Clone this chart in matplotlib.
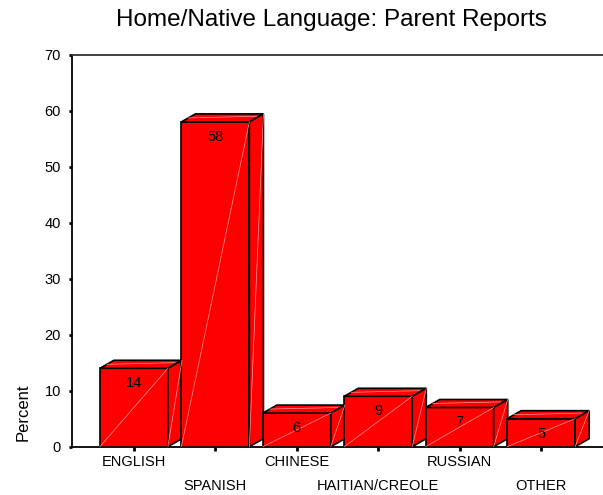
import matplotlib
matplotlib.use("Agg")
import matplotlib.pyplot as plt

plt.rcParams['font.family'] = ['Liberation Sans', 'DejaVu Sans']

# Données
languages = ['ENGLISH', 'SPANISH', 'CHINESE', 'HAITIAN/CREOLE', 'RUSSIAN', 'OTHER']
percent = [14, 58, 6, 9, 7, 5]
y_ticks = [0, 10, 20, 30, 40, 50, 60, 70]

# Style des barres 3D
bar_w = 0.835
depth_x = 0.173
depth_y = 1.43
face = '#ff0000'
shine = '#ff9c9c'

fig = plt.figure(figsize=(6.03, 4.95), dpi=100)
ax = fig.add_axes([72 / 603, 1 - 446.7 / 495, 531 / 603, 392 / 495])

for i, v in enumerate(percent):
    x0 = i - bar_w / 2
    x1 = i + bar_w / 2
    # face avant
    ax.fill([x0, x1, x1, x0], [0, 0, v, v], color=face, ec='black', lw=1.2, zorder=3)
    # dessus
    ax.fill([x0, x1, x1 + depth_x, x0 + depth_x], [v, v, v + depth_y, v + depth_y],
            color=face, ec='black', lw=1.2, zorder=3)
    # côté
    ax.fill([x1, x1 + depth_x, x1 + depth_x, x1], [0, depth_y, v + depth_y, v],
            color=face, ec='black', lw=1.2, zorder=3)
    # reflets
    ax.plot([x0, x1], [0, v], color=shine, lw=0.5, zorder=4)
    ax.plot([x1, x1 + depth_x], [0, v + depth_y], color=shine, lw=0.5, zorder=4)
    ax.plot([x0 + depth_x * 0.5, x1 + depth_x * 0.5], [v + depth_y * 0.5, v + depth_y * 0.7],
            color=shine, lw=0.5, zorder=4)
    # étiquette de valeur
    ax.annotate(str(v), xy=(i, v), xytext=(0, -15), textcoords='offset pixels',
                ha='center', va='center', fontsize=10.5, zorder=5)
    # étiquette de catégorie, en quinconce
    off = -15 if i % 2 == 0 else -39
    ax.annotate(languages[i], xy=(i, 0), xycoords=ax.get_xaxis_transform(),
                xytext=(0, off), textcoords='offset pixels',
                ha='center', va='center', fontsize=10.5)

ax.set_xlim(-0.76, 5.76)
ax.set_ylim(0, 70)
ax.set_yticks(y_ticks)
ax.set_yticklabels([str(t) for t in y_ticks], fontsize=10.5)
ax.set_xticks(range(len(languages)))
ax.set_xticklabels([])
ax.tick_params(axis='y', direction='out', length=2, width=2, pad=6)
ax.tick_params(axis='x', direction='out', length=3, width=2)

ax.spines['right'].set_visible(False)
for s in ['left', 'bottom', 'top']:
    ax.spines[s].set_linewidth(1.3)
ax.spines['top'].set_color('#333333')

fig.text(23 / 603, 1 - 412 / 495, 'Percent', rotation=90, ha='center', va='center', fontsize=12)
fig.text(331 / 603, 1 - 20 / 495, 'Home/Native Language: Parent Reports',
         ha='center', va='center', fontsize=17.5)

fig.savefig('out.png', dpi=100)
